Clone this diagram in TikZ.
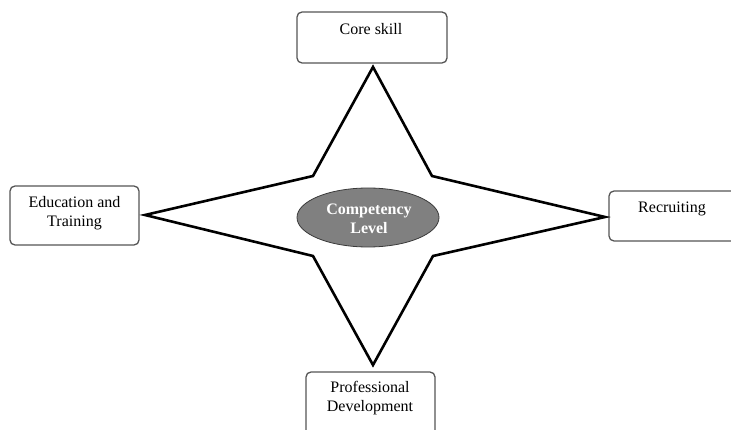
\documentclass[tikz,border=0pt]{standalone}
\usepackage{fontspec}
\setmainfont{Liberation Serif}
\usetikzlibrary{shapes.geometric}
\definecolor{boxgray}{HTML}{555555}
\definecolor{ellfill}{HTML}{808080}
\definecolor{elldraw}{HTML}{3A3A3A}
\begin{document}
\begin{tikzpicture}[x=1pt,y=-1pt,
  box/.style={draw=boxgray, line width=1.3pt, rounded corners=5pt, fill=white, inner sep=0pt},
  lbl/.style={font=\fontsize{16}{19}\selectfont, align=center, text=black, inner sep=0pt},
  star/.style={draw=black, line width=2.6pt, line join=miter}]
\useasboundingbox (0,0) rectangle (731,430);
\clip (0,0) rectangle (731,430);
% boxes
\node[box, minimum width=150pt, minimum height=51pt] (core) at (372,37.5) {};
\node[box, minimum width=129pt, minimum height=59pt] (edu) at (74.5,215.5) {};
\node[box, minimum width=135pt, minimum height=50pt] (rec) at (676.5,216) {};
\node[box, minimum width=129pt, minimum height=70pt] (prof) at (370.5,407) {};
% labels
\node[lbl] (coreT) at (371,29) {Core skill};
\node[lbl] (eduT) at (74.5,213) {Education and\\Training};
\node[lbl] (recT) at (672,209) {Recruiting};
\node[lbl] (profT) at (370,398) {Professional\\Development};
% star
\coordinate (tT) at (373,67);
\coordinate (tR) at (605,217);
\coordinate (tB) at (373,365);
\coordinate (tL) at (145,215);
\coordinate (iUR) at (432,176);
\coordinate (iLR) at (433,256);
\coordinate (iLL) at (313,256);
\coordinate (iUL) at (313,176);
\draw[star] (tT) -- (iUR) -- (tR) -- (iLR) -- (tB) -- (iLL) -- (tL) -- (iUL) -- cycle;
% centre
\node[ellipse, draw=elldraw, line width=0.8pt, fill=ellfill, minimum width=142pt, minimum height=59pt, inner sep=0pt] (center) at (368,217.5) {};
\node[lbl, text=white, font=\fontsize{16}{19}\selectfont\bfseries] (centerT) at (369,219) {Competency\\Level};
\end{tikzpicture}
\end{document}
